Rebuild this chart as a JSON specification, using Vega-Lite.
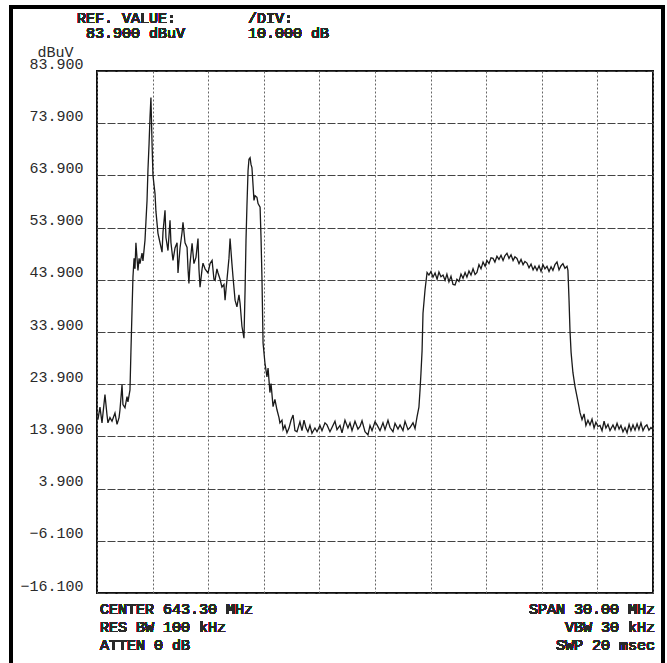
{
  "$schema": "https://vega.github.io/schema/vega-lite/v6.json",
  "autosize": {"type": "none"},
  "width": 556,
  "height": 522,
  "padding": {"left": 97, "top": 71, "right": 14, "bottom": 70},
  "background": "white",
  "config": {
    "view": {"stroke": "#111", "strokeWidth": 2},
    "font": "Liberation Mono"
  },
  "data": {"values": [
    {"f":628.35,"v":17.1},{"f":628.46,"v":19.5},{"f":628.57,"v":16.5},{"f":628.73,"v":21.9},{"f":628.84,"v":18},{"f":628.89,"v":16.5},{"f":629.00,"v":17.5},{"f":629.11,"v":16.8},{"f":629.27,"v":18.4},{"f":629.38,"v":16.2},{"f":629.49,"v":17.5},{"f":629.54,"v":19},{"f":629.65,"v":23.8},{"f":629.70,"v":20},{"f":629.81,"v":19.4},{"f":629.92,"v":21.5},{"f":629.97,"v":20.5},{"f":630.08,"v":22.8},{"f":630.13,"v":30},{"f":630.19,"v":38},{"f":630.24,"v":44.4},{"f":630.30,"v":48},{"f":630.35,"v":46},{"f":630.40,"v":51},{"f":630.46,"v":48},{"f":630.51,"v":45.7},{"f":630.57,"v":48},{"f":630.62,"v":47},{"f":630.73,"v":49},{"f":630.78,"v":47.5},{"f":630.89,"v":51.5},{"f":630.94,"v":55},{"f":631.00,"v":59.1},{"f":631.05,"v":65},{"f":631.11,"v":70},{"f":631.16,"v":75},{"f":631.21,"v":78.8},{"f":631.27,"v":70},{"f":631.32,"v":63.9},{"f":631.38,"v":62},{"f":631.43,"v":60.4},{"f":631.48,"v":57},{"f":631.59,"v":52.8},{"f":631.70,"v":51},{"f":631.81,"v":49.2},{"f":631.86,"v":53},{"f":631.97,"v":57.2},{"f":632.02,"v":52},{"f":632.13,"v":49.5},{"f":632.24,"v":55.3},{"f":632.29,"v":51},{"f":632.40,"v":47.6},{"f":632.51,"v":50},{"f":632.62,"v":51},{"f":632.67,"v":45.2},{"f":632.78,"v":50},{"f":632.89,"v":53},{"f":632.94,"v":54.9},{"f":633.05,"v":51},{"f":633.16,"v":50.1},{"f":633.21,"v":46},{"f":633.26,"v":43.2},{"f":633.32,"v":47},{"f":633.43,"v":50.9},{"f":633.53,"v":47},{"f":633.64,"v":48.2},{"f":633.75,"v":51.8},{"f":633.80,"v":46},{"f":633.86,"v":42.5},{"f":633.97,"v":46},{"f":634.02,"v":47.1},{"f":634.13,"v":46},{"f":634.29,"v":45.2},{"f":634.40,"v":47},{"f":634.51,"v":47.6},{"f":634.61,"v":44},{"f":634.67,"v":43.8},{"f":634.77,"v":46},{"f":634.83,"v":45.2},{"f":634.94,"v":44},{"f":635.04,"v":42.5},{"f":635.15,"v":43},{"f":635.21,"v":40},{"f":635.26,"v":42},{"f":635.31,"v":43.8},{"f":635.42,"v":48},{"f":635.48,"v":51.8},{"f":635.58,"v":47},{"f":635.64,"v":44.4},{"f":635.75,"v":40},{"f":635.85,"v":38.7},{"f":635.96,"v":41},{"f":636.02,"v":39.4},{"f":636.12,"v":35},{"f":636.23,"v":32.7},{"f":636.29,"v":42},{"f":636.34,"v":51.5},{"f":636.39,"v":58},{"f":636.45,"v":64.8},{"f":636.50,"v":67},{"f":636.56,"v":67.3},{"f":636.61,"v":66},{"f":636.66,"v":65.4},{"f":636.72,"v":62},{"f":636.77,"v":59.1},{"f":636.83,"v":60},{"f":636.93,"v":59.7},{"f":636.99,"v":58.5},{"f":637.10,"v":57.8},{"f":637.15,"v":52},{"f":637.20,"v":44.4},{"f":637.26,"v":31.8},{"f":637.36,"v":28},{"f":637.47,"v":25.3},{"f":637.53,"v":27},{"f":637.63,"v":22.3},{"f":637.69,"v":24},{"f":637.80,"v":19.6},{"f":637.90,"v":21},{"f":638.01,"v":19},{"f":638.12,"v":17.5},{"f":638.17,"v":16.5},{"f":638.28,"v":17},{"f":638.34,"v":15.2},{"f":638.44,"v":16},{"f":638.55,"v":14.6},{"f":638.66,"v":15.5},{"f":638.77,"v":17},{"f":638.88,"v":18},{"f":638.98,"v":15},{"f":639.09,"v":14.8},{"f":639.25,"v":16.7},{"f":639.36,"v":15},{"f":639.47,"v":17},{"f":639.58,"v":15.5},{"f":639.68,"v":14.8},{"f":639.79,"v":16},{"f":639.90,"v":14.5},{"f":640.06,"v":15.5},{"f":640.17,"v":14.8},{"f":640.33,"v":16},{"f":640.44,"v":15},{"f":640.60,"v":16.5},{"f":640.71,"v":16.1},{"f":640.87,"v":14.8},{"f":640.98,"v":15.6},{"f":641.14,"v":16.8},{"f":641.25,"v":15.2},{"f":641.41,"v":16},{"f":641.52,"v":14.6},{"f":641.68,"v":17},{"f":641.84,"v":15.5},{"f":641.95,"v":16.5},{"f":642.06,"v":15},{"f":642.22,"v":16.8},{"f":642.38,"v":15.3},{"f":642.49,"v":15.8},{"f":642.60,"v":16.9},{"f":642.76,"v":14.8},{"f":642.92,"v":14.2},{"f":643.03,"v":16},{"f":643.14,"v":15},{"f":643.30,"v":16.7},{"f":643.41,"v":16.1},{"f":643.57,"v":15},{"f":643.73,"v":16.5},{"f":643.84,"v":15.2},{"f":644.00,"v":17},{"f":644.11,"v":15.6},{"f":644.27,"v":14.8},{"f":644.38,"v":16.4},{"f":644.54,"v":15.3},{"f":644.65,"v":16.1},{"f":644.81,"v":15},{"f":644.92,"v":16.8},{"f":645.08,"v":15.2},{"f":645.19,"v":15.6},{"f":645.35,"v":16.5},{"f":645.46,"v":15.4},{"f":645.57,"v":17.7},{"f":645.67,"v":19.5},{"f":645.73,"v":22.8},{"f":645.78,"v":26},{"f":645.84,"v":30.3},{"f":645.89,"v":37.5},{"f":646.00,"v":42},{"f":646.11,"v":45.3},{"f":646.21,"v":44.8},{"f":646.32,"v":45.5},{"f":646.43,"v":44.4},{"f":646.54,"v":45.2},{"f":646.65,"v":44},{"f":646.75,"v":45.4},{"f":646.86,"v":44.5},{"f":646.97,"v":44.8},{"f":647.08,"v":43.8},{"f":647.18,"v":45},{"f":647.29,"v":43.5},{"f":647.40,"v":44.6},{"f":647.51,"v":43},{"f":647.62,"v":42.9},{"f":647.72,"v":44},{"f":647.83,"v":43.6},{"f":647.94,"v":45},{"f":648.05,"v":44.2},{"f":648.16,"v":45.3},{"f":648.26,"v":44.4},{"f":648.37,"v":45.6},{"f":648.48,"v":44.8},{"f":648.59,"v":46},{"f":648.70,"v":44.9},{"f":648.80,"v":45.3},{"f":648.91,"v":46.8},{"f":649.02,"v":46},{"f":649.13,"v":47.3},{"f":649.24,"v":46.5},{"f":649.34,"v":47.6},{"f":649.45,"v":47},{"f":649.56,"v":48.1},{"f":649.67,"v":48},{"f":649.77,"v":47.3},{"f":649.88,"v":48.4},{"f":649.99,"v":47.8},{"f":650.10,"v":48.6},{"f":650.21,"v":47.6},{"f":650.31,"v":48.5},{"f":650.42,"v":49},{"f":650.53,"v":48},{"f":650.64,"v":48.7},{"f":650.75,"v":47.6},{"f":650.85,"v":48.3},{"f":650.96,"v":48},{"f":651.07,"v":47},{"f":651.18,"v":47.8},{"f":651.29,"v":46.8},{"f":651.39,"v":47.4},{"f":651.50,"v":47.1},{"f":651.61,"v":46.2},{"f":651.72,"v":46.9},{"f":651.83,"v":45.8},{"f":651.93,"v":46.5},{"f":652.04,"v":45.7},{"f":652.15,"v":46.6},{"f":652.26,"v":45.5},{"f":652.36,"v":46.8},{"f":652.47,"v":46},{"f":652.58,"v":46.5},{"f":652.69,"v":45.5},{"f":652.80,"v":46.4},{"f":652.90,"v":45.7},{"f":653.01,"v":46.8},{"f":653.12,"v":47.3},{"f":653.23,"v":45.8},{"f":653.34,"v":46.6},{"f":653.44,"v":47},{"f":653.55,"v":46.1},{"f":653.66,"v":46.5},{"f":653.71,"v":45.7},{"f":653.77,"v":40},{"f":653.82,"v":34.3},{"f":653.88,"v":30},{"f":653.93,"v":28},{"f":653.98,"v":26.1},{"f":654.09,"v":23.5},{"f":654.20,"v":21.5},{"f":654.31,"v":19.5},{"f":654.36,"v":18.5},{"f":654.47,"v":17.1},{"f":654.58,"v":18.2},{"f":654.68,"v":16},{"f":654.79,"v":17},{"f":654.90,"v":16.1},{"f":655.01,"v":17.2},{"f":655.12,"v":15.5},{"f":655.22,"v":16.6},{"f":655.33,"v":15.8},{"f":655.44,"v":16},{"f":655.55,"v":15},{"f":655.66,"v":16.8},{"f":655.76,"v":15.5},{"f":655.87,"v":16.2},{"f":655.98,"v":15},{"f":656.14,"v":16.1},{"f":656.25,"v":15.2},{"f":656.36,"v":16.4},{"f":656.47,"v":15.3},{"f":656.57,"v":16},{"f":656.68,"v":14.8},{"f":656.79,"v":15.6},{"f":656.90,"v":14.6},{"f":657.01,"v":16.2},{"f":657.11,"v":15},{"f":657.22,"v":16.1},{"f":657.33,"v":15.1},{"f":657.44,"v":16.3},{"f":657.54,"v":15.2},{"f":657.65,"v":16.5},{"f":657.76,"v":15},{"f":657.87,"v":15.8},{"f":657.97,"v":16.1},{"f":658.08,"v":15.1},{"f":658.19,"v":15.6},{"f":658.30,"v":15.2}
  ]},
  "layer": [
    {
      "mark": {"type": "line", "color": "#1a1a1a", "strokeWidth": 1.3, "interpolate": "linear"},
      "encoding": {
        "x": {
          "field": "f", "type": "quantitative",
          "scale": {"domain": [628.3, 658.3], "nice": false, "zero": false},
          "axis": {
            "values": [628.3, 631.3, 634.3, 637.3, 640.3, 643.3, 646.3, 649.3, 652.3, 655.3, 658.3],
            "labels": false, "ticks": false, "domain": false, "title": null,
            "grid": true, "gridColor": "#666", "gridDash": [2, 2], "gridWidth": 1, "gridOpacity": 1
          }
        },
        "y": {
          "field": "v", "type": "quantitative",
          "scale": {"domain": [-16.1, 83.9], "nice": false, "zero": false},
          "axis": {
            "values": [-16.1, -6.1, 3.9, 13.9, 23.9, 33.9, 43.9, 53.9, 63.9, 73.9, 83.9],
            "format": ".3f", "ticks": false, "domain": false,
            "labelFont": "Liberation Mono", "labelFontSize": 15, "labelColor": "#2a2a2a",
            "labelBaseline": "bottom", "labelPadding": 14, "labelOverlap": false, "labelFlush": false, "labelBound": false,
            "grid": true, "gridColor": "#444", "gridDash": [8, 2], "gridWidth": 1.2, "gridOpacity": 1,
            "title": "dBuV", "titleAngle": 0, "titleX": -42, "titleY": -20,
            "titleAlign": "center", "titleBaseline": "middle",
            "titleFont": "Liberation Mono", "titleFontSize": 15, "titleFontWeight": "normal", "titleColor": "#2a2a2a"
          }
        }
      }
    },
    {
      "mark": {"type": "rect", "fill": null, "stroke": "#000", "strokeWidth": 2.5, "clip": false},
      "encoding": {
        "x": {"datum": 623.66}, "x2": {"datum": 658.84},
        "y": {"datum": 96.16}, "y2": {"datum": -32}
      }
    },
    {
      "mark": {"type": "text", "text": "REF. VALUE:\u00a0\u00a0\u00a0\u00a0\u00a0\u00a0\u00a0\u00a0/DIV:",
               "align": "left", "baseline": "alphabetic", "dx": -20, "dy": -48,
               "font": "Liberation Mono", "fontSize": 15, "fontWeight": "normal", "color": "#2a2a2a"},
      "encoding": {"x": {"datum": 628.3}, "y": {"datum": 83.9}}
    },
    {
      "mark": {"type": "text", "text": "83.900\u00a0dBuV\u00a0\u00a0\u00a0\u00a0\u00a0\u00a0\u00a010.000\u00a0dB",
               "align": "left", "baseline": "alphabetic", "dx": -11, "dy": -33,
               "font": "Liberation Mono", "fontSize": 15, "fontWeight": "normal", "color": "#2a2a2a"},
      "encoding": {"x": {"datum": 628.3}, "y": {"datum": 83.9}}
    },
    {
      "mark": {"type": "text", "text": ["CENTER 643.30 MHz", "RES BW 100 kHz", "ATTEN 0 dB"], "lineHeight": 18,
               "align": "left", "baseline": "alphabetic", "dx": 3, "dy": 21,
               "font": "Liberation Mono", "fontSize": 15, "fontWeight": "normal", "color": "#2a2a2a"},
      "encoding": {"x": {"datum": 628.3}, "y": {"datum": -16.1}}
    },
    {
      "mark": {"type": "text", "text": ["SPAN 30.00 MHz", "VBW 30 kHz", "SWP 20 msec"], "lineHeight": 18,
               "align": "right", "baseline": "alphabetic", "dx": 2, "dy": 21,
               "font": "Liberation Mono", "fontSize": 15, "fontWeight": "normal", "color": "#2a2a2a"},
      "encoding": {"x": {"datum": 658.3}, "y": {"datum": -16.1}}
    }
  ]
}
